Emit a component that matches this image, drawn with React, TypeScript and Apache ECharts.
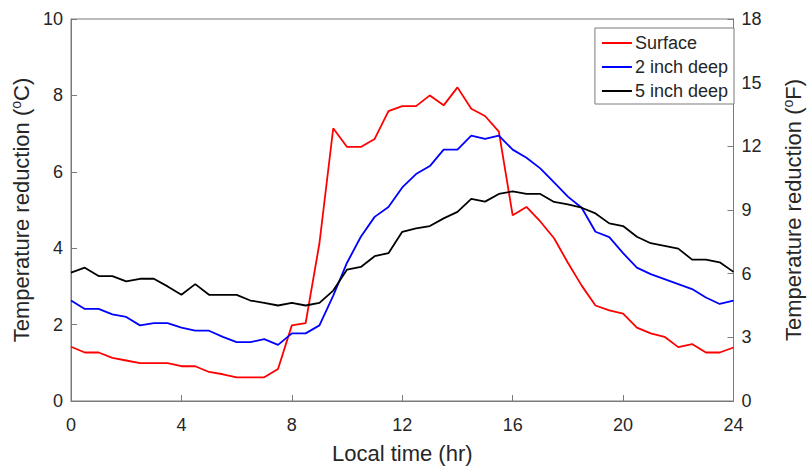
import React, { useEffect, useRef } from "react";
import * as echarts from "echarts";

const hours = [0, 0.5, 1, 1.5, 2, 2.5, 3, 3.5, 4, 4.5, 5, 5.5, 6, 6.5, 7, 7.5, 8, 8.5, 9, 9.5, 10, 10.5, 11, 11.5, 12, 12.5, 13, 13.5, 14, 14.5, 15, 15.5, 16, 16.5, 17, 17.5, 18, 18.5, 19, 19.5, 20, 20.5, 21, 21.5, 22, 22.5, 23, 23.5, 24];

const surface = [1.42, 1.27, 1.27, 1.13, 1.06, 0.99, 0.99, 0.99, 0.91, 0.91, 0.76, 0.7, 0.62, 0.62, 0.62, 0.84, 1.98, 2.04, 4.13, 7.14, 6.65, 6.65, 6.86, 7.59, 7.72, 7.72, 8.0, 7.74, 8.21, 7.65, 7.46, 7.05, 4.86, 5.08, 4.7, 4.26, 3.62, 3.02, 2.5, 2.37, 2.29, 1.92, 1.77, 1.68, 1.41, 1.49, 1.27, 1.27, 1.4];

const deep2 = [2.63, 2.41, 2.41, 2.27, 2.2, 1.98, 2.04, 2.04, 1.92, 1.84, 1.84, 1.68, 1.54, 1.54, 1.62, 1.47, 1.77, 1.77, 1.98, 2.76, 3.62, 4.3, 4.82, 5.08, 5.59, 5.94, 6.15, 6.58, 6.58, 6.95, 6.86, 6.95, 6.58, 6.37, 6.09, 5.72, 5.35, 5.06, 4.43, 4.29, 3.87, 3.49, 3.32, 3.19, 3.06, 2.93, 2.71, 2.54, 2.63];

const deep5 = [3.36, 3.49, 3.27, 3.27, 3.13, 3.2, 3.2, 3.0, 2.78, 3.06, 2.78, 2.78, 2.78, 2.63, 2.57, 2.5, 2.57, 2.5, 2.57, 2.89, 3.44, 3.51, 3.79, 3.87, 4.43, 4.52, 4.58, 4.78, 4.95, 5.29, 5.22, 5.42, 5.49, 5.42, 5.42, 5.21, 5.15, 5.06, 4.91, 4.65, 4.58, 4.3, 4.13, 4.06, 3.99, 3.7, 3.7, 3.63, 3.38];

const seriesNames = ["Surface", "2 inch deep", "5 inch deep"];
const seriesColors = ["#ff0000", "#0000ff", "#000000"];

const FONT = "Liberation Sans, Arial, sans-serif";
const AXIS_COLOR = "#7a7a7a";
const TEXT_COLOR = "#262626";

export default function App() {
  const ref = useRef<HTMLDivElement>(null);
  useEffect(() => {
    if (!ref.current) return;
    const chart = echarts.init(ref.current, undefined, { renderer: "svg" });
    const allData = [surface, deep2, deep5];
    const nameRich = {
      a: { fontSize: 22, color: TEXT_COLOR, fontFamily: FONT },
      s: { fontSize: 14, color: TEXT_COLOR, fontFamily: FONT, padding: [0, 0, 11, 0] },
    };
    chart.setOption({
      animation: false,
      textStyle: { fontFamily: FONT },
      grid: {
        left: 71,
        right: 70,
        top: 19,
        bottom: 62,
        show: true,
        borderColor: AXIS_COLOR,
        borderWidth: 1,
        containLabel: false,
      },
      legend: {
        right: 78,
        top: 28,
        orient: "vertical",
        data: seriesNames,
        icon: "rect",
        itemWidth: 30,
        itemHeight: 2,
        itemGap: 6,
        borderColor: AXIS_COLOR,
        borderWidth: 1,
        borderRadius: 0,
        padding: [6, 6, 4, 7],
        backgroundColor: "#ffffff",
        textStyle: { fontSize: 18, lineHeight: 18, color: TEXT_COLOR, fontFamily: FONT, padding: [0, 0, 0, -2] },
      },
      xAxis: {
        type: "value",
        min: 0,
        max: 24,
        interval: 4,
        name: "Local time (hr)",
        nameLocation: "middle",
        nameGap: 41,
        nameTextStyle: { fontSize: 22, color: TEXT_COLOR, fontFamily: FONT },
        axisLine: { show: true, lineStyle: { color: AXIS_COLOR, width: 1 } },
        axisTick: { show: true, inside: true, length: 6, lineStyle: { color: AXIS_COLOR } },
        axisLabel: { fontSize: 18, color: TEXT_COLOR, margin: 15, fontFamily: FONT },
        splitLine: { show: false },
      },
      yAxis: [
        {
          type: "value",
          min: 0,
          max: 10,
          interval: 2,
          position: "left",
          name: "{a|Temperature reduction (}{s|o}{a|C)}",
          nameLocation: "middle",
          nameRotate: 90,
          nameGap: 29,
          nameTextStyle: { rich: nameRich },
          axisLine: { show: true, lineStyle: { color: AXIS_COLOR, width: 1 } },
          axisTick: { show: true, inside: true, length: 6, lineStyle: { color: AXIS_COLOR } },
          axisLabel: { fontSize: 18, color: TEXT_COLOR, margin: 8, fontFamily: FONT },
          splitLine: { show: false },
        },
        {
          type: "value",
          min: 0,
          max: 18,
          interval: 3,
          position: "right",
          name: "{a|Temperature reduction (}{s|o}{a|F)}",
          nameLocation: "middle",
          nameRotate: 90,
          nameGap: 47,
          nameTextStyle: { rich: nameRich },
          axisLine: { show: true, lineStyle: { color: AXIS_COLOR, width: 1 } },
          axisTick: { show: true, inside: true, length: 6, lineStyle: { color: AXIS_COLOR } },
          axisLabel: { fontSize: 18, color: TEXT_COLOR, margin: 8, fontFamily: FONT },
          splitLine: { show: false },
        },
      ],
      series: seriesNames.map((name, i) => ({
        name,
        type: "line",
        yAxisIndex: 0,
        symbol: "none",
        data: hours.map((h, j) => [h, allData[i][j]]),
        lineStyle: { color: seriesColors[i], width: 1.8 },
        itemStyle: { color: seriesColors[i] },
      })),
    });
    return () => chart.dispose();
  }, []);
  return <div ref={ref} style={{ width: 812, height: 469, position: "absolute", left: 0, top: 0, background: "#fff" }} />;
}
